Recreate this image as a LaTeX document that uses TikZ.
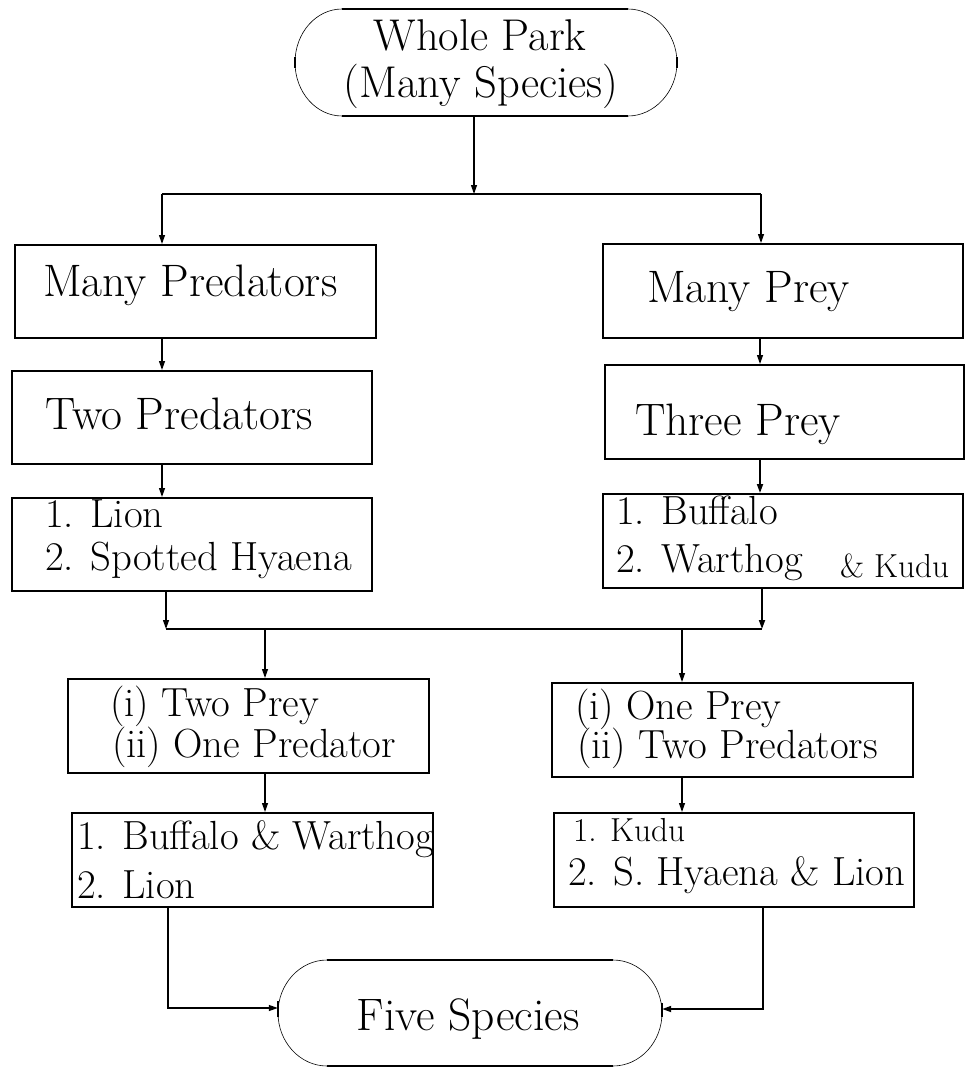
\documentclass[tikz,border=0pt]{standalone}
\usetikzlibrary{arrows.meta}
\begin{document}
\begin{tikzpicture}[x=1pt,y=-1pt,
  box/.style={draw, line width=1.6pt, inner sep=0pt, anchor=north west},
  capsulenode/.style={inner sep=0pt},
  capcurve/.style={line width=0.6pt},
  capline/.style={line width=1.5pt},
  big/.style={font=\fontsize{45.5}{54}\selectfont, anchor=base west, inner sep=0pt},
  bigc/.style={font=\fontsize{44.5}{52}\selectfont, anchor=base, inner sep=0pt},
  mid/.style={font=\fontsize{40.7}{48}\selectfont, anchor=base west, inner sep=0pt},
  small/.style={font=\fontsize{33.3}{40}\selectfont, anchor=base west, inner sep=0pt},
  conn/.style={line width=1.2pt},
  heavy/.style={line width=1.7pt},
  arr/.style={conn, -{Triangle[length=9pt,width=6pt]}}]
\useasboundingbox (0,0) rectangle (964,1068);

% ---------- top capsule ----------
\node[capsulenode, minimum width=382pt, minimum height=107pt] (park) at (486,62.5) {};
\draw[capline] (342,9) -- (628,9) (342,116) -- (628,116);
\draw[capcurve] (342,9) .. controls (316,9) and (295,33) .. (295,62.5) .. controls (295,92) and (316,116) .. (342,116);
\draw[capcurve] (628,9) .. controls (654,9) and (677,33) .. (677,62.5) .. controls (677,92) and (654,116) .. (628,116);
\draw[capline] (295,57) -- (295,68) (677,57) -- (677,68);
\node[bigc] (parkA) at (480,50) {Whole Park};
\node[bigc] (parkB) at (481,97) {(Many Species)};

% ---------- boxes ----------
\node[box, minimum width=361pt, minimum height=93pt] (manypred) at (14,244) {};
\node[box, minimum width=360pt, minimum height=93pt] (twopred) at (11,370) {};
\node[box, minimum width=360pt, minimum height=93pt] (lion) at (11,497) {};
\node[box, minimum width=360pt, minimum height=94pt] (manyprey) at (602,243) {};
\node[box, minimum width=359pt, minimum height=94pt] (threeprey) at (604,364) {};
\node[box, minimum width=360pt, minimum height=94pt] (buffalo) at (602,493) {};
\node[box, minimum width=361pt, minimum height=94pt] (twoprey) at (67,678) {};
\node[box, minimum width=361pt, minimum height=94pt] (oneprey) at (551,682) {};
\node[box, minimum width=361pt, minimum height=94pt] (bw) at (71,812) {};
\node[box, minimum width=360pt, minimum height=94pt] (kudu) at (553,812) {};

% ---------- texts ----------
\node[big] (tManyPred) at (43,296) {Many Predators};
\node[big] (tTwoPred) at (45,429) {Two Predators};
\node[mid] (tLion1) at (45,527) {1. Lion};
\node[mid] (tLion2) at (45,570) {2. Spotted Hyaena};
\node[big] (tManyPrey) at (647,302) {Many Prey};
\node[big] (tThreePrey) at (635,435) {Three Prey};
\node[mid] (tBuf1) at (616,524) {1. Buffalo};
\node[mid] (tBuf2) at (616,572) {2. Warthog};
\node[small] (tKudu) at (840,577) {\& Kudu};
\node[mid] (tTwoPrey1) at (110,716) {(i) Two Prey};
\node[mid] (tTwoPrey2) at (112,757) {(ii) One Predator};
\node[mid] (tOnePrey1) at (575,719) {(i) One Prey};
\node[mid] (tOnePrey2) at (577,758) {(ii) Two Predators};
\node[mid] (tBW1) at (77,849) {1. Buffalo \& Warthog};
\node[mid] (tBW2) at (77,898) {2. Lion};
\node[small] (tK1) at (573,841) {1. Kudu};
\node[mid] (tK2) at (568,885) {2. S. Hyaena \& Lion};

% ---------- bottom capsule ----------
\node[capsulenode, minimum width=384pt, minimum height=106pt] (five) at (470,1013) {};
\draw[capline] (327,960) -- (613,960) (327,1066) -- (613,1066);
\draw[capcurve] (327,960) .. controls (300,960) and (278,984) .. (278,1013) .. controls (278,1042) and (300,1066) .. (327,1066);
\draw[capcurve] (613,960) .. controls (640,960) and (662,984) .. (662,1013) .. controls (662,1042) and (640,1066) .. (613,1066);
\draw[capline] (278,1001) -- (278,1017) (662,1003) -- (662,1017);
\node[font=\fontsize{45.5}{54}\selectfont, anchor=base, inner sep=0pt] (tFive) at (468,1030) {Five Species};

% ---------- connectors ----------
\coordinate (bus1L) at (162,194);
\coordinate (bus1M) at (474,194);
\coordinate (bus1R) at (761,194);
\coordinate (rc) at (760,300);
\coordinate (bus2L) at (166,629);
\coordinate (bus2R) at (762,629);
\coordinate (b2a) at (265,629);
\coordinate (b2b) at (682,629);
\coordinate (fl) at (168,1008);
\coordinate (fr) at (763,1009);

\draw[arr] (park.south -| bus1M) -- (bus1M);
\draw[conn] (bus1L) -- (bus1R);
\draw[arr] (bus1L) -- (bus1L |- manypred.north);
\draw[arr] (bus1R) -- (bus1R |- manyprey.north);
\draw[arr] (manypred.south -| bus1L) -- (twopred.north -| bus1L);
\draw[arr] (twopred.south -| bus1L) -- (lion.north -| bus1L);
\draw[arr] (manyprey.south -| rc) -- (threeprey.north -| rc);
\draw[arr, heavy] (threeprey.south -| rc) -- (buffalo.north -| rc);
\draw[arr] (lion.south -| bus2L) -- (bus2L);
\draw[arr, heavy] (buffalo.south -| bus2R) -- (bus2R);
\draw[conn] (bus2L) -- (bus2R);
\draw[arr] (b2a) -- (b2a |- twoprey.north);
\draw[arr] (b2b) -- (b2b |- oneprey.north);
\draw[arr] (twoprey.south -| b2a) -- (bw.north -| b2a);
\draw[arr] (oneprey.south -| b2b) -- (kudu.north -| b2b);
\draw[arr] (bw.south -| fl) -- (fl) -- (fl -| five.west);
\draw[arr, heavy] (kudu.south -| fr) -- (fr) -- (fr -| five.east);
\end{tikzpicture}
\end{document}
